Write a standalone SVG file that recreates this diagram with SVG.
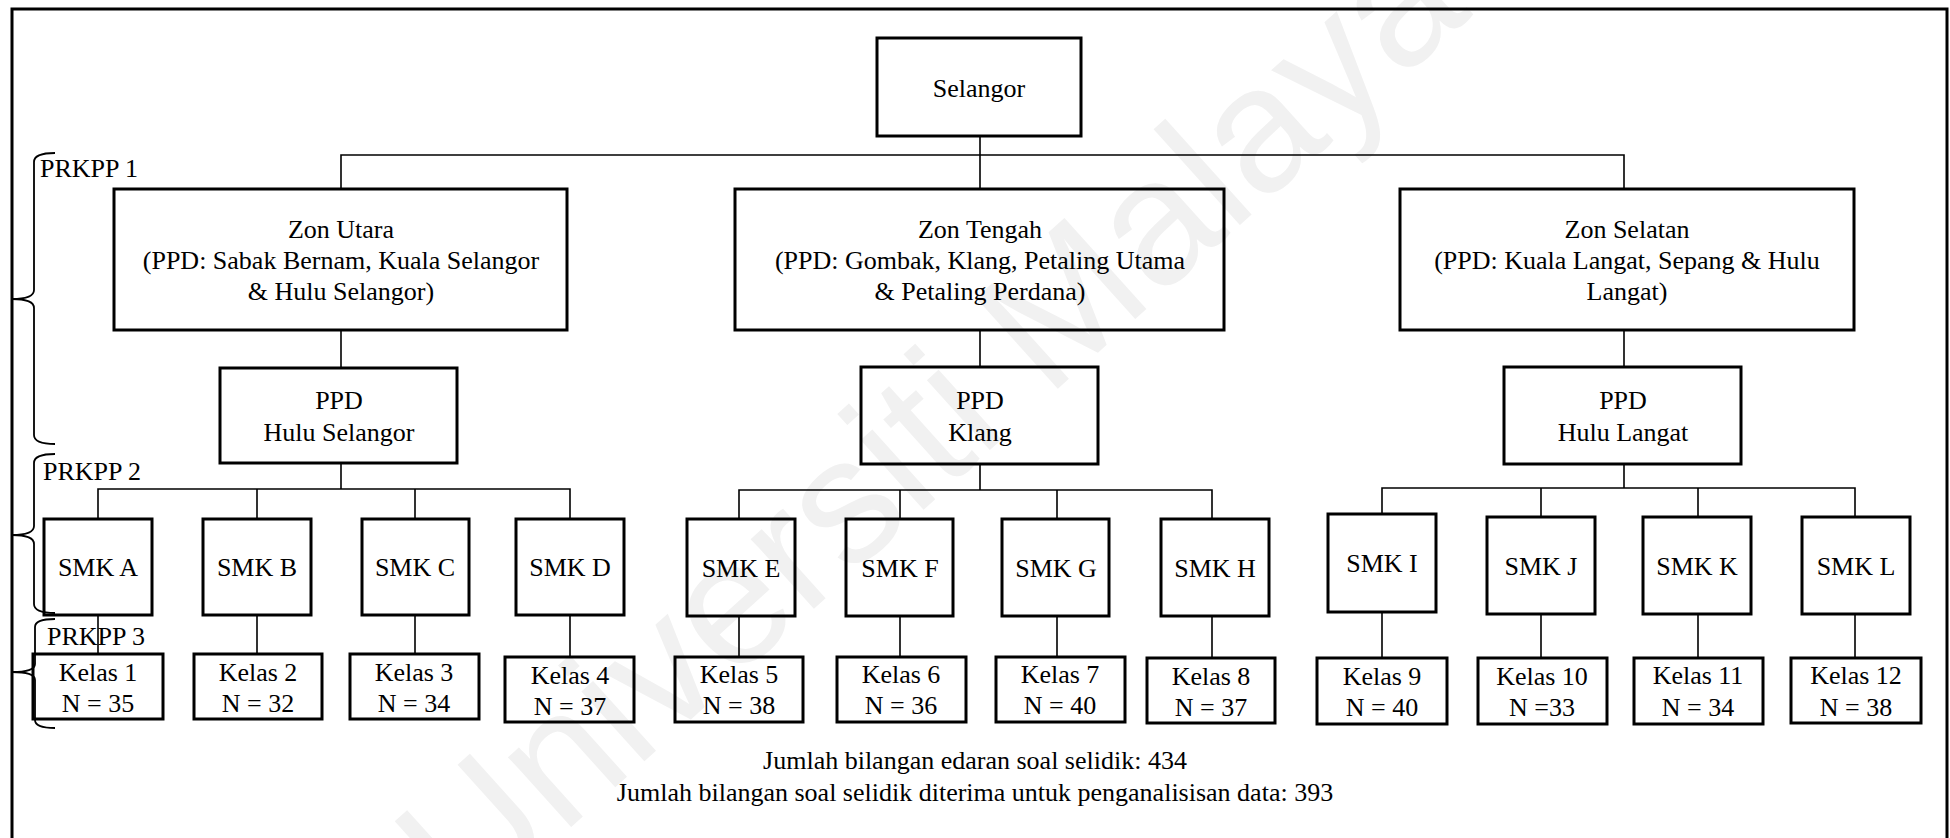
<svg xmlns="http://www.w3.org/2000/svg" width="1950" height="838" viewBox="0 0 1950 838" font-family="'Liberation Serif','Times New Roman',serif">
<style>
.bx{fill:none;stroke:#000;stroke-width:3}
.ln{fill:none;stroke:#000;stroke-width:1.6}
.br{fill:none;stroke:#000;stroke-width:1.8}
text{font-family:"Liberation Serif","Times New Roman",serif;font-size:26px;fill:#000}
.c{text-anchor:middle}
.wm{font-family:"Liberation Sans",Arial,sans-serif;font-size:178px;fill:#f1f1f1;text-anchor:middle}
</style>
<rect width="1950" height="838" fill="#fff"/>
<text class="wm" transform="translate(970,468) rotate(-42)">Universiti Malaya</text>
<path d="M12,838 V9 H1947 V838" fill="none" stroke="#000" stroke-width="3"/>
<g id="braces">
<path class="br" d="M55,153 Q34,153 34,162 V290 Q34,299 12,299 Q34,299 34,308 V435 Q34,444 55,444"/>
<path class="br" d="M55,454 Q34,454 34,463 V526 Q34,535 12,535 Q34,535 34,544 V604 Q34,613 55,613"/>
<path class="br" d="M55,619 Q35,619 35,627 V664 Q35,672 12,672 Q35,672 35,680 V720 Q35,728 55,728"/>
<text x="40" y="177">PRKPP 1</text>
<text x="43" y="480">PRKPP 2</text>
<text x="47" y="645">PRKPP 3</text>
</g>
<g id="connectors">
<path class="ln" d="M980,136 V189 M341,189 V155 H1624 V189"/>
<path class="ln" d="M341,330 V368 M980,330 V367 M1624,330 V367"/>
<path class="ln" d="M341,463 V489 M98,519 V489 H570 V519 M257,489 V519 M415,489 V519"/>
<path class="ln" d="M980,464 V490 M739,519 V490 H1212 V519 M900,490 V519 M1057,490 V519"/>
<path class="ln" d="M1624,464 V488 M1382,514 V488 H1855 V517 M1541,488 V517 M1698,488 V517"/>
<path class="ln" d="M98,615 V654 M257,615 V654 M415,615 V654 M570,615 V657"/>
<path class="ln" d="M739,616 V657 M900,616 V657 M1057,616 V657 M1212,616 V658"/>
<path class="ln" d="M1382,612 V658 M1541,614 V658 M1698,614 V658 M1855,614 V658"/>
</g>
<g id="n-selangor"><rect class="bx" x="877" y="38" width="204" height="98"/><text class="c" x="979" y="97">Selangor</text></g>
<g id="n-utara"><rect class="bx" x="114" y="189" width="453" height="141"/><text class="c" x="341" y="238">Zon Utara</text><text class="c" x="341" y="269">(PPD: Sabak Bernam, Kuala Selangor</text><text class="c" x="341" y="300">&amp; Hulu Selangor)</text></g>
<g id="n-tengah"><rect class="bx" x="735" y="189" width="489" height="141"/><text class="c" x="980" y="238">Zon Tengah</text><text class="c" x="980" y="269">(PPD: Gombak, Klang, Petaling Utama</text><text class="c" x="980" y="300">&amp; Petaling Perdana)</text></g>
<g id="n-selatan"><rect class="bx" x="1400" y="189" width="454" height="141"/><text class="c" x="1627" y="238">Zon Selatan</text><text class="c" x="1627" y="269">(PPD: Kuala Langat, Sepang &amp; Hulu</text><text class="c" x="1627" y="300">Langat)</text></g>
<g id="n-ppd-hs"><rect class="bx" x="220" y="368" width="237" height="95"/><text class="c" x="339" y="409">PPD</text><text class="c" x="339" y="441">Hulu Selangor</text></g>
<g id="n-ppd-kl"><rect class="bx" x="861" y="367" width="237" height="97"/><text class="c" x="980" y="409">PPD</text><text class="c" x="980" y="441">Klang</text></g>
<g id="n-ppd-hl"><rect class="bx" x="1504" y="367" width="237" height="97"/><text class="c" x="1623" y="409">PPD</text><text class="c" x="1623" y="441">Hulu Langat</text></g>
<g id="n-smk-a"><rect class="bx" x="44" y="519" width="108" height="96"/><text class="c" x="98" y="576">SMK A</text></g>
<g id="n-smk-b"><rect class="bx" x="203" y="519" width="108" height="96"/><text class="c" x="257" y="576">SMK B</text></g>
<g id="n-smk-c"><rect class="bx" x="362" y="519" width="107" height="96"/><text class="c" x="415" y="576">SMK C</text></g>
<g id="n-smk-d"><rect class="bx" x="516" y="519" width="108" height="96"/><text class="c" x="570" y="576">SMK D</text></g>
<g id="n-smk-e"><rect class="bx" x="687" y="519" width="108" height="97"/><text class="c" x="741" y="577">SMK E</text></g>
<g id="n-smk-f"><rect class="bx" x="846" y="519" width="107" height="97"/><text class="c" x="900" y="577">SMK F</text></g>
<g id="n-smk-g"><rect class="bx" x="1002" y="519" width="107" height="97"/><text class="c" x="1056" y="577">SMK G</text></g>
<g id="n-smk-h"><rect class="bx" x="1161" y="519" width="108" height="97"/><text class="c" x="1215" y="577">SMK H</text></g>
<g id="n-smk-i"><rect class="bx" x="1328" y="514" width="108" height="98"/><text class="c" x="1382" y="572">SMK I</text></g>
<g id="n-smk-j"><rect class="bx" x="1487" y="517" width="108" height="97"/><text class="c" x="1541" y="575">SMK J</text></g>
<g id="n-smk-k"><rect class="bx" x="1643" y="517" width="108" height="97"/><text class="c" x="1697" y="575">SMK K</text></g>
<g id="n-smk-l"><rect class="bx" x="1802" y="517" width="108" height="97"/><text class="c" x="1856" y="575">SMK L</text></g>
<g id="n-kelas-1"><rect class="bx" x="33" y="654" width="130" height="65"/><text class="c" x="98" y="681">Kelas 1</text><text class="c" x="98" y="712">N = 35</text></g>
<g id="n-kelas-2"><rect class="bx" x="194" y="654" width="128" height="65"/><text class="c" x="258" y="681">Kelas 2</text><text class="c" x="258" y="712">N = 32</text></g>
<g id="n-kelas-3"><rect class="bx" x="350" y="654" width="129" height="65"/><text class="c" x="414" y="681">Kelas 3</text><text class="c" x="414" y="712">N = 34</text></g>
<g id="n-kelas-4"><rect class="bx" x="505" y="657" width="129" height="65"/><text class="c" x="570" y="684">Kelas 4</text><text class="c" x="570" y="715">N = 37</text></g>
<g id="n-kelas-5"><rect class="bx" x="675" y="657" width="128" height="65"/><text class="c" x="739" y="683">Kelas 5</text><text class="c" x="739" y="714">N = 38</text></g>
<g id="n-kelas-6"><rect class="bx" x="837" y="657" width="129" height="65"/><text class="c" x="901" y="683">Kelas 6</text><text class="c" x="901" y="714">N = 36</text></g>
<g id="n-kelas-7"><rect class="bx" x="996" y="657" width="129" height="65"/><text class="c" x="1060" y="683">Kelas 7</text><text class="c" x="1060" y="714">N = 40</text></g>
<g id="n-kelas-8"><rect class="bx" x="1147" y="658" width="128" height="65"/><text class="c" x="1211" y="685">Kelas 8</text><text class="c" x="1211" y="716">N = 37</text></g>
<g id="n-kelas-9"><rect class="bx" x="1317" y="658" width="130" height="66"/><text class="c" x="1382" y="685">Kelas 9</text><text class="c" x="1382" y="716">N = 40</text></g>
<g id="n-kelas-10"><rect class="bx" x="1478" y="658" width="129" height="66"/><text class="c" x="1542" y="685">Kelas 10</text><text class="c" x="1542" y="716">N =33</text></g>
<g id="n-kelas-11"><rect class="bx" x="1634" y="658" width="129" height="66"/><text class="c" x="1698" y="684">Kelas 11</text><text class="c" x="1698" y="716">N = 34</text></g>
<g id="n-kelas-12"><rect class="bx" x="1791" y="658" width="130" height="65"/><text class="c" x="1856" y="684">Kelas 12</text><text class="c" x="1856" y="716">N = 38</text></g>
<g id="footer"><text class="c" x="975" y="769">Jumlah bilangan edaran soal selidik: 434</text><text class="c" x="975" y="801">Jumlah bilangan soal selidik diterima untuk penganalisisan data: 393</text></g>
</svg>
